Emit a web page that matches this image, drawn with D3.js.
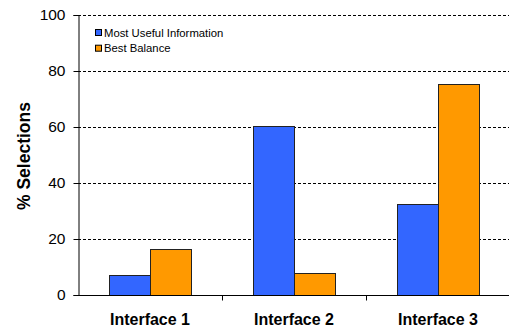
<!DOCTYPE html>
<html>
<head>
<meta charset="utf-8">
<script src="https://cdn.jsdelivr.net/npm/d3@7"></script>
<style>
  body { margin: 0; background: #fff; }
  svg { font-family: Arial, "Liberation Sans", sans-serif; }
</style>
</head>
<body>
<svg id="chart" width="509" height="327"></svg>
<script>
// Data
const categories = ["Interface 1", "Interface 2", "Interface 3"];
const seriesNames = ["Most Useful Information", "Best Balance"];
const mostUseful = [7, 60.2, 32.6];
const bestBalance = [16.4, 8, 75.5];
const yTicks = [0, 20, 40, 60, 80, 100];
const colors = ["#3366FF", "#FF9900"];

const margin = {left: 78, right: 0, top: 15, bottom: 32};
const width = 509, height = 327;

const svg = d3.select("#chart");

const x = d3.scaleBand()
    .domain(categories)
    .range([margin.left, 510])
    .paddingInner(0).paddingOuter(0);

const xInner = d3.scaleBand()
    .domain(seriesNames)
    .range([0, 82]);

const y = d3.scaleLinear()
    .domain([0, 100])
    .range([295, margin.top]);

// Gridlines
svg.append("g")
    .selectAll("line")
    .data(yTicks.filter(d => d > 0))
    .enter().append("line")
    .attr("x1", margin.left)
    .attr("x2", width)
    .attr("y1", d => Math.round(y(d)) + 0.5)
    .attr("y2", d => Math.round(y(d)) + 0.5)
    .attr("stroke", "#000")
    .attr("stroke-width", 1)
    .attr("stroke-dasharray", "3,2");

// Bars
const rows = categories.map((c, i) => ({cat: c, vals: [mostUseful[i], bestBalance[i]]}));
const groups = svg.append("g")
    .selectAll("g")
    .data(rows)
    .enter().append("g")
    .attr("transform", d => "translate(" + (x(d.cat) + x.bandwidth() / 2 - 41) + ",0)");

groups.selectAll("rect")
    .data(d => d.vals.map((v, j) => ({name: seriesNames[j], value: v, j: j})))
    .enter().append("rect")
    .attr("x", d => Math.round(xInner(d.name)) + 0.5)
    .attr("y", d => Math.round(y(d.value)) + 0.5)
    .attr("width", xInner.bandwidth())
    .attr("height", d => 295 - Math.round(y(d.value)))
    .attr("fill", d => colors[d.j])
    .attr("stroke", "#222")
    .attr("stroke-width", 1);

// Y axis
const yAxis = svg.append("g")
    .attr("transform", "translate(" + (margin.left + 0.5) + ",0)")
    .call(d3.axisLeft(y).tickValues(yTicks).tickSize(5).tickPadding(8));
yAxis.select(".domain").attr("stroke", "#000");
yAxis.selectAll("text").attr("font-size", 15.5).attr("font-family", "Arial, 'Liberation Sans', sans-serif").attr("fill", "#000");
yAxis.selectAll("line").attr("stroke", "#000");

// X axis
const xAxis = svg.append("g")
    .attr("transform", "translate(0," + 295.5 + ")");
xAxis.append("line")
    .attr("x1", margin.left).attr("x2", width)
    .attr("stroke", "#000");
xAxis.selectAll("line.tick")
    .data(categories.slice(1))
    .enter().append("line")
    .attr("class", "tick")
    .attr("x1", d => Math.round(x(d)) + 0.5)
    .attr("x2", d => Math.round(x(d)) + 0.5)
    .attr("y1", 0).attr("y2", 5)
    .attr("stroke", "#000");
xAxis.selectAll("text")
    .data(categories)
    .enter().append("text")
    .attr("x", d => x(d) + x.bandwidth() / 2)
    .attr("y", 29.5)
    .attr("text-anchor", "middle")
    .attr("font-size", 16)
    .attr("font-weight", "bold")
    .text(d => d);

// Y title
svg.append("text")
    .attr("transform", "translate(30,156) rotate(-90)")
    .attr("text-anchor", "middle")
    .attr("font-size", 17.5)
    .attr("font-weight", "bold")
    .text("% Selections");

// Legend
const legend = svg.append("g").attr("transform", "translate(95,29)");
seriesNames.forEach((name, i) => {
    legend.append("rect")
        .attr("x", 0.5).attr("y", i * 15.7 + 0.5)
        .attr("width", 6).attr("height", 6)
        .attr("fill", colors[i])
        .attr("stroke", "#000");
    legend.append("text")
        .attr("x", 9).attr("y", i * 15.7 + 7.5)
        .attr("font-size", 11.3)
        .text(name);
});
</script>
</body>
</html>
